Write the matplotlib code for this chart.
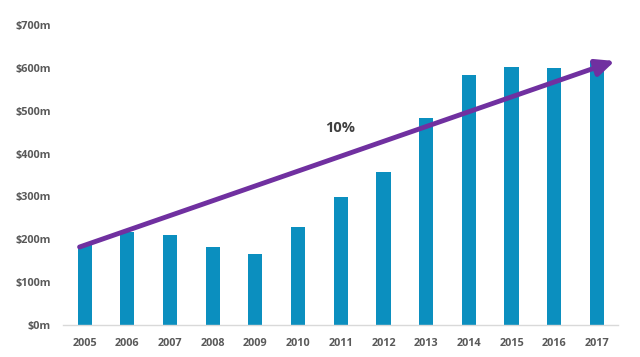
import matplotlib.pyplot as plt

years = ['2005', '2006', '2007', '2008', '2009', '2010', '2011',
         '2012', '2013', '2014', '2015', '2016', '2017']
values = [186, 217, 210, 182, 165, 228, 298, 357, 482, 583, 601, 599, 615]
yticks = [0, 100, 200, 300, 400, 500, 600, 700]
trend_start = (-0.12, 182)
trend_end = (12.42, 616)

plt.rcParams['font.family'] = ['Open Sans', 'DejaVu Sans']

fig = plt.figure(figsize=(6.4, 3.57), dpi=100)
ax = fig.add_axes([0.099, 0.0896, 0.867, 0.8404])

x = list(range(len(years)))
ax.bar(x, values, width=0.33, color='#0b8fbf', zorder=2)

ax.set_xlim(-0.5, len(years) - 0.5)
ax.set_ylim(0, 700)
ax.set_xticks(x)
ax.set_xticklabels(years, fontsize=7.8, fontweight='bold', color='#595959')
ax.set_yticks(yticks)
ax.set_yticklabels(['$%dm' % v for v in yticks], fontsize=7.8,
                   fontweight='bold', color='#595959')
ax.tick_params(length=0, pad=9)

for s in ['top', 'right', 'left']:
    ax.spines[s].set_visible(False)
ax.spines['bottom'].set_color('#d9d9d9')
ax.spines['bottom'].set_linewidth(1)

ax.annotate('', xy=trend_end, xytext=trend_start,
            arrowprops=dict(arrowstyle='-|>,head_length=1.1,head_width=0.5',
                            color='#7030a0', lw=3.5, shrinkA=0, shrinkB=0),
            zorder=3)
ax.text(5.98, 460, '10%', fontsize=10.5, fontweight='bold', color='#404040',
        ha='center', va='center')

fig.savefig('out.png', dpi=100)
